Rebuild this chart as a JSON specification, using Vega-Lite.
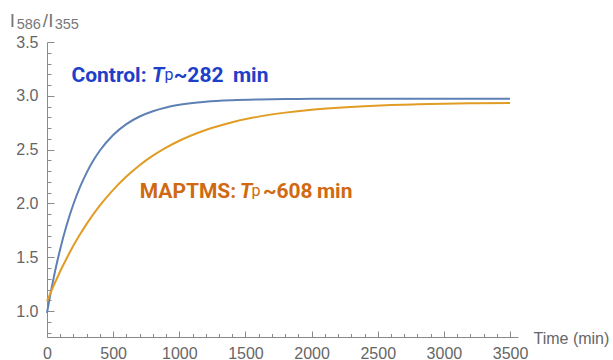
{
  "$schema": "https://vega.github.io/schema/vega-lite/v6.json",
  "width": 471,
  "height": 295,
  "autosize": {"type": "none"},
  "padding": {"left": 47, "top": 42, "right": 95, "bottom": 23},
  "background": "white",
  "config": {
    "view": {"stroke": null},
    "axis": {
      "grid": false,
      "domainColor": "#8a8a8a",
      "tickColor": "#8a8a8a",
      "labelColor": "#666666",
      "labelFont": "Liberation Sans",
      "labelFontSize": 16,
      "titleFont": "Liberation Sans",
      "titleFontWeight": "normal",
      "titleColor": "#666666",
      "titleFontSize": 16,
      "labelFlush": false,
      "labelOverlap": false,
      "labelBound": false
    }
  },
  "encoding": {
    "x": {
      "field": "t", "type": "quantitative",
      "scale": {"domain": [0, 3560], "nice": false, "zero": false},
      "axis": {
        "orient": "bottom",
        "title": "Time (min)",
        "titleX": 486,
        "titleY": 1,
        "titleAlign": "left",
        "titleBaseline": "middle",
        "titleAnchor": null,
        "values": [0,100,200,300,400,500,600,700,800,900,1000,1100,1200,1300,1400,1500,1600,1700,1800,1900,2000,2100,2200,2300,2400,2500,2600,2700,2800,2900,3000,3100,3200,3300,3400,3500],
        "format": "d",
        "labelOverlap": false,
        "labelExpr": "datum.value % 500 === 0 ? format(datum.value, 'd') : ''",
        "tickSize": {"condition": {"test": "datum.value % 500 === 0", "value": -6}, "value": -3.5},
        "labelPadding": 14
      }
    },
    "y": {
      "field": "y", "type": "quantitative",
      "scale": {"domain": [0.76, 3.5], "nice": false, "zero": false},
      "axis": {
        "orient": "left",
        "title": null,
        "values": [0.8,0.9,1,1.1,1.2,1.3,1.4,1.5,1.6,1.7,1.8,1.9,2,2.1,2.2,2.3,2.4,2.5,2.6,2.7,2.8,2.9,3,3.1,3.2,3.3,3.4,3.5],
        "labelOverlap": false,
        "labelExpr": "abs(datum.value*2 - round(datum.value*2)) < 0.001 ? format(datum.value, '.1f') : ''",
        "tickSize": {"condition": {"test": "abs(datum.value*2 - round(datum.value*2)) < 0.001", "value": -7}, "value": -4},
        "labelPadding": 16
      }
    }
  },
  "layer": [
    {
      "data": {"values": [
        {"t": 0, "y": 0.984, "s": "Control"},
        {"t": 25, "y": 1.153, "s": "Control"},
        {"t": 50, "y": 1.307, "s": "Control"},
        {"t": 75, "y": 1.449, "s": "Control"},
        {"t": 100, "y": 1.578, "s": "Control"},
        {"t": 150, "y": 1.805, "s": "Control"},
        {"t": 200, "y": 1.995, "s": "Control"},
        {"t": 250, "y": 2.154, "s": "Control"},
        {"t": 300, "y": 2.287, "s": "Control"},
        {"t": 350, "y": 2.399, "s": "Control"},
        {"t": 400, "y": 2.492, "s": "Control"},
        {"t": 500, "y": 2.636, "s": "Control"},
        {"t": 600, "y": 2.737, "s": "Control"},
        {"t": 700, "y": 2.808, "s": "Control"},
        {"t": 800, "y": 2.857, "s": "Control"},
        {"t": 900, "y": 2.892, "s": "Control"},
        {"t": 1000, "y": 2.917, "s": "Control"},
        {"t": 1200, "y": 2.946, "s": "Control"},
        {"t": 1400, "y": 2.960, "s": "Control"},
        {"t": 1600, "y": 2.967, "s": "Control"},
        {"t": 1800, "y": 2.971, "s": "Control"},
        {"t": 2000, "y": 2.972, "s": "Control"},
        {"t": 2500, "y": 2.974, "s": "Control"},
        {"t": 3000, "y": 2.974, "s": "Control"},
        {"t": 3500, "y": 2.974, "s": "Control"},
        {"t": 0, "y": 1.090, "s": "MAPTMS"},
        {"t": 25, "y": 1.165, "s": "MAPTMS"},
        {"t": 50, "y": 1.236, "s": "MAPTMS"},
        {"t": 100, "y": 1.371, "s": "MAPTMS"},
        {"t": 150, "y": 1.494, "s": "MAPTMS"},
        {"t": 200, "y": 1.609, "s": "MAPTMS"},
        {"t": 250, "y": 1.714, "s": "MAPTMS"},
        {"t": 300, "y": 1.811, "s": "MAPTMS"},
        {"t": 400, "y": 1.982, "s": "MAPTMS"},
        {"t": 500, "y": 2.127, "s": "MAPTMS"},
        {"t": 600, "y": 2.250, "s": "MAPTMS"},
        {"t": 700, "y": 2.355, "s": "MAPTMS"},
        {"t": 800, "y": 2.444, "s": "MAPTMS"},
        {"t": 900, "y": 2.519, "s": "MAPTMS"},
        {"t": 1000, "y": 2.583, "s": "MAPTMS"},
        {"t": 1200, "y": 2.683, "s": "MAPTMS"},
        {"t": 1400, "y": 2.755, "s": "MAPTMS"},
        {"t": 1600, "y": 2.807, "s": "MAPTMS"},
        {"t": 1800, "y": 2.844, "s": "MAPTMS"},
        {"t": 2000, "y": 2.871, "s": "MAPTMS"},
        {"t": 2200, "y": 2.890, "s": "MAPTMS"},
        {"t": 2400, "y": 2.904, "s": "MAPTMS"},
        {"t": 2600, "y": 2.914, "s": "MAPTMS"},
        {"t": 2800, "y": 2.921, "s": "MAPTMS"},
        {"t": 3000, "y": 2.927, "s": "MAPTMS"},
        {"t": 3200, "y": 2.930, "s": "MAPTMS"},
        {"t": 3500, "y": 2.934, "s": "MAPTMS"}
      ]},
      "mark": {"type": "line", "strokeWidth": 2, "interpolate": "monotone"},
      "encoding": {
        "color": {
          "field": "s", "type": "nominal",
          "scale": {"domain": ["Control", "MAPTMS"], "range": ["#5e81b5", "#e19c24"]},
          "legend": null
        }
      }
    },
    {
      "data": {"values": [
        {"t": 184.6, "y": 3.129, "txt": "Control:", "s": "Control"},
        {"t": 958, "y": 3.129, "txt": "~282", "s": "Control"},
        {"t": 1405, "y": 3.129, "txt": "min", "s": "Control"},
        {"t": 701, "y": 2.055, "txt": "MAPTMS:", "s": "MAPTMS"},
        {"t": 1632, "y": 2.055, "txt": "~608", "s": "MAPTMS"},
        {"t": 2040, "y": 2.055, "txt": "min", "s": "MAPTMS"}
      ]},
      "mark": {"type": "text", "align": "left", "baseline": "alphabetic", "font": "Roboto", "fontWeight": "bold", "fontSize": 21},
      "encoding": {
        "text": {"field": "txt"},
        "color": {"condition": {"test": "datum.s === 'Control'", "value": "#1e40c8"}, "value": "#cf6a12"}
      }
    },
    {
      "data": {"values": [
        {"t": 792, "y": 3.129, "txt": "T", "s": "Control"},
        {"t": 1457, "y": 2.055, "txt": "T", "s": "MAPTMS"}
      ]},
      "mark": {"type": "text", "align": "left", "baseline": "alphabetic", "font": "Roboto", "fontWeight": "bold", "fontStyle": "italic", "fontSize": 21},
      "encoding": {
        "text": {"field": "txt"},
        "color": {"condition": {"test": "datum.s === 'Control'", "value": "#1e40c8"}, "value": "#cf6a12"}
      }
    },
    {
      "data": {"values": [
        {"t": 888, "y": 3.144, "txt": "p", "s": "Control"},
        {"t": 1545, "y": 2.067, "txt": "p", "s": "MAPTMS"}
      ]},
      "mark": {"type": "text", "align": "left", "baseline": "alphabetic", "font": "Roboto", "fontWeight": "normal", "fontSize": 16},
      "encoding": {
        "text": {"field": "txt"},
        "color": {"condition": {"test": "datum.s === 'Control'", "value": "#1e40c8"}, "value": "#cf6a12"}
      }
    },
    {
      "data": {"values": [
        {"t": -282, "y": 3.636, "txt": "I"},
        {"t": -32, "y": 3.636, "txt": "/"},
        {"t": 10, "y": 3.636, "txt": "I"}
      ]},
      "mark": {"type": "text", "align": "left", "baseline": "alphabetic", "font": "Liberation Sans", "fontSize": 19, "color": "#777777"},
      "encoding": {
        "text": {"field": "txt"}
      }
    },
    {
      "data": {"values": [
        {"t": -229, "y": 3.622, "txt": "586"},
        {"t": 58, "y": 3.622, "txt": "355"}
      ]},
      "mark": {"type": "text", "align": "left", "baseline": "alphabetic", "font": "Liberation Sans", "fontSize": 14.5, "color": "#777777"},
      "encoding": {
        "text": {"field": "txt"}
      }
    }
  ]
}
